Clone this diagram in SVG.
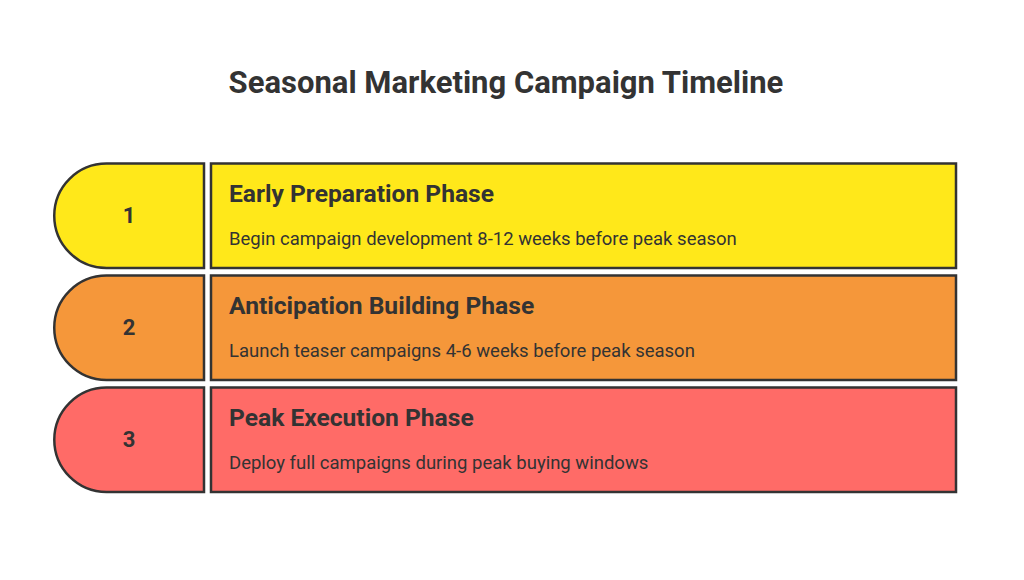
<svg xmlns="http://www.w3.org/2000/svg" width="1024" height="580" viewBox="0 0 1024 580">
<style>
.bg{fill:#ffffff}
.sh{stroke:#333333;stroke-width:2.5}
.y{fill:#FFE81A}
.o{fill:#F5973A}
.r{fill:#FF6B67}
.title{font-family:Roboto,"Liberation Sans",sans-serif;font-weight:700;font-size:31px;fill:#333333;text-anchor:middle}
.num{font-family:Roboto,"Liberation Sans",sans-serif;font-weight:700;font-size:22px;fill:#333333;text-anchor:middle}
.head{font-family:Roboto,"Liberation Sans",sans-serif;font-weight:700;font-size:24.6px;fill:#333333}
.desc{font-family:Roboto,"Liberation Sans",sans-serif;font-size:18.5px;fill:#333333}
</style>
<rect class="bg" x="0" y="0" width="1024" height="580"/>
<text class="title" x="506" y="93">Seasonal Marketing Campaign Timeline</text>
<g id="phase1">
<path class="sh y" d="M106.5,163.5 H204 V268 H106.5 A52.25,52.25 0 0 1 106.5,163.5 Z"/>
<rect class="sh y" x="211" y="163.5" width="745" height="104.5"/>
<text class="num" x="129" y="223">1</text>
<text class="head" x="229" y="202">Early Preparation Phase</text>
<text class="desc" x="229" y="245">Begin campaign development 8-12 weeks before peak season</text>
</g>
<g id="phase2">
<path class="sh o" d="M106.5,275.5 H204 V380 H106.5 A52.25,52.25 0 0 1 106.5,275.5 Z"/>
<rect class="sh o" x="211" y="275.5" width="745" height="104.5"/>
<text class="num" x="129" y="335">2</text>
<text class="head" x="229" y="314">Anticipation Building Phase</text>
<text class="desc" x="229" y="357">Launch teaser campaigns 4-6 weeks before peak season</text>
</g>
<g id="phase3">
<path class="sh r" d="M106.5,387.5 H204 V492 H106.5 A52.25,52.25 0 0 1 106.5,387.5 Z"/>
<rect class="sh r" x="211" y="387.5" width="745" height="104.5"/>
<text class="num" x="129" y="447">3</text>
<text class="head" x="229" y="426">Peak Execution Phase</text>
<text class="desc" x="229" y="469">Deploy full campaigns during peak buying windows</text>
</g>
<g id="connectors"></g>
</svg>
